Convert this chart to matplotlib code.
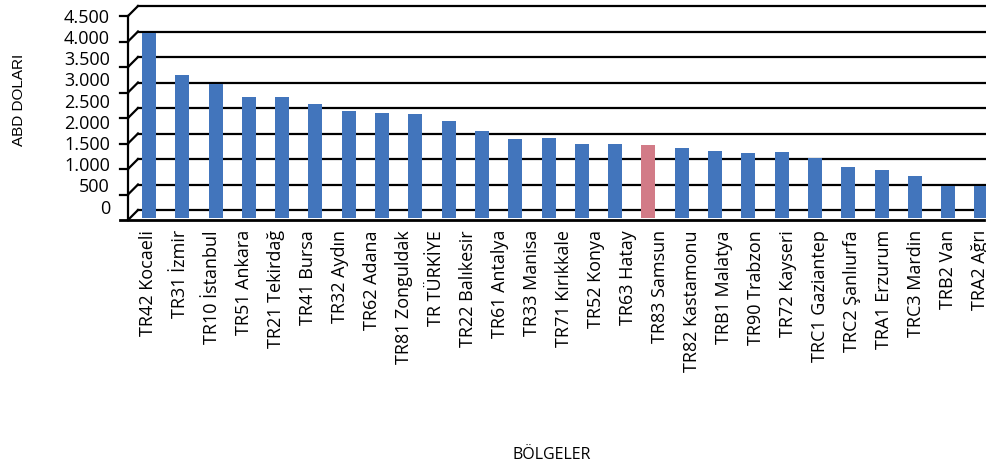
import numpy as np
import matplotlib.pyplot as plt
from matplotlib.ticker import FuncFormatter

# Region labels along the floor (27 labels)
regions = ['TR42 Kocaeli', 'TR31 İzmir', 'TR10 İstanbul', 'TR51 Ankara', 'TR21 Tekirdağ',
           'TR41 Bursa', 'TR32 Aydın', 'TR62 Adana', 'TR81 Zonguldak', 'TR TÜRKİYE',
           'TR22 Balıkesir', 'TR61 Antalya', 'TR33 Manisa', 'TR71 Kırıkkale', 'TR52 Konya',
           'TR63 Hatay', 'TR83 Samsun', 'TR82 Kastamonu', 'TRB1 Malatya', 'TR90 Trabzon',
           'TR72 Kayseri', 'TRC1 Gaziantep', 'TRC2 Şanlıurfa', 'TRA1 Erzurum', 'TRC3 Mardin',
           'TRB2 Van', 'TRA2 Ağrı']

# Bar heights as drawn in the picture (ABD doları), visible bars only
values = [3630, 2800, 2630, 2380, 2370, 2240, 2100, 2060, 2040, 1900,
          1710, 1550, 1570, 1450, 1450, 1430, 1370, 1310, 1275, 1295,
          1175, 1000, 940, 825, 630, 630]
highlight = 15  # the pink bar

# y axis labels printed on the left wall
ylabels = np.arange(0, 5000, 500)
grid_vals = np.arange(0, 4500, 500)

W, H = 987, 467
fig = plt.figure(figsize=(W / 100, H / 100), dpi=100)

# pixel geometry of the pseudo-3D frame
px_per_unit = 204 / 4000
bar_step = 33.3
base_px = 218
ax_left, ax_right, ax_bottom = 128, 987, 230

ax = fig.add_axes([ax_left / W, (H - ax_bottom) / H, (ax_right - ax_left) / W, ax_bottom / H])
ax.set_ylim((base_px - ax_bottom) / px_per_unit, base_px / px_per_unit)
ax.set_xlim((ax_left - 149) / bar_step, (ax_right - 149) / bar_step)
for s in ax.spines.values():
    s.set_visible(False)
ax.set_xticks([])
ax.set_yticks([])

back = 8 / px_per_unit     # back wall sits 8 px higher than the bars
front = -2 / px_per_unit   # front axis sits 2 px lower
bx = 10 / (ax_right - ax_left)   # depth shift to the right, axes coords
tick = 8 / (ax_right - ax_left)
yt = ax.get_yaxis_transform()

# back wall gridlines, diagonals and left axis ticks
for g in grid_vals:
    ax.plot([bx, 858 / 859], [g + back, g + back], color='black', lw=1.6,
            transform=yt, clip_on=False, zorder=1)
    ax.plot([0, bx], [g + front, g + back], color='black', lw=1.6,
            transform=yt, clip_on=False, zorder=1)
    if g > 0:
        ax.plot([-tick, 0], [g + front, g + front], color='black', lw=1.6,
                transform=yt, clip_on=False, zorder=1)
ax.plot([0, 0], [front, grid_vals[-1] + front], color='black', lw=1.6,
        transform=yt, clip_on=False, zorder=1)
ax.plot([-tick, 856 / 859], [front, front], color='black', lw=2,
        transform=yt, clip_on=False, zorder=4)

colors = ['#4275BC'] * len(values)
colors[highlight] = '#D27B87'
ax.bar(np.arange(len(values)), values, width=14 / bar_step, color=colors, zorder=3)

# category labels (spaced slightly tighter than the bars in the original)
ax2 = ax.twiny()
ax2.set_xlim((ax_left - 148) / 32, (ax_right - 148) / 32)
ax2.xaxis.set_ticks_position('bottom')
ax2.set_xticks(np.arange(len(regions)))
ax2.set_xticklabels(regions, rotation=90, fontsize=13, family='Open Sans')
ax2.tick_params(axis='x', length=0, pad=0)
for s in ax2.spines.values():
    s.set_visible(False)

# value labels on the left wall
ax3 = ax.twinx()
lab_px = 191 / 4500
ax3.set_ylim((206.7 - ax_bottom) / lab_px, 206.7 / lab_px)
ax3.yaxis.set_ticks_position('left')
ax3.set_yticks(ylabels)
ax3.yaxis.set_major_formatter(FuncFormatter(lambda v, p: f'{int(v):,}'.replace(',', '.')))
ax3.tick_params(axis='y', length=0, pad=13, labelsize=13)
for t in ax3.get_yticklabels():
    t.set_family('Open Sans')
for s in ax3.spines.values():
    s.set_visible(False)

fig.text(19 / W, 1 - 100 / H, 'ABD DOLARI', rotation=90, ha='center', va='center',
         fontsize=11, family=['Liberation Sans Narrow', 'Liberation Sans'])
fig.text(552 / W, 1 - 455 / H, 'BÖLGELER', ha='center', va='center',
         fontsize=11.5, family='Open Sans')

fig.savefig('out.png', dpi=100)
